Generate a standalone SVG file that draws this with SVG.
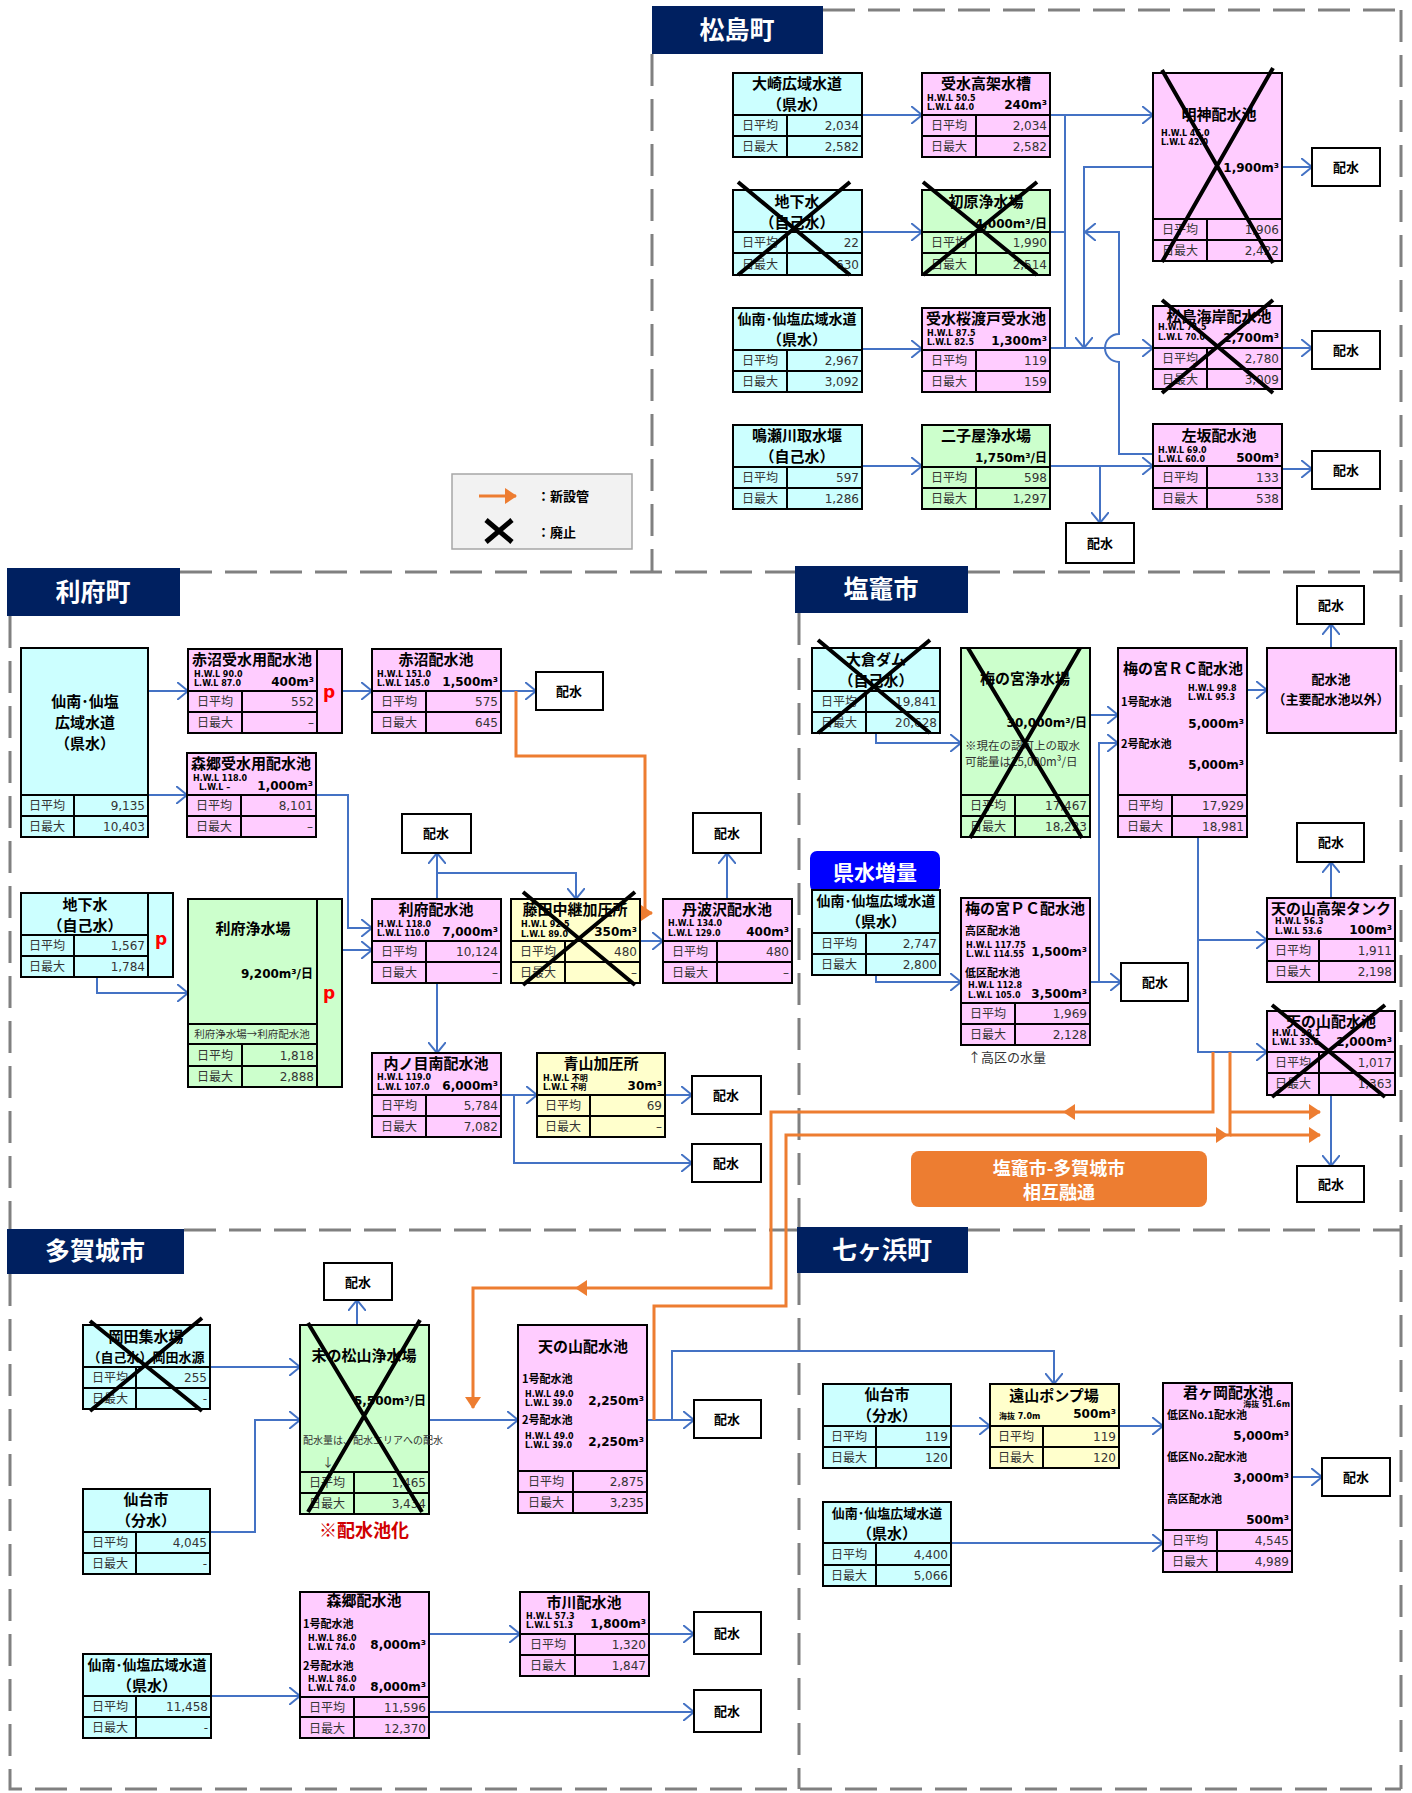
<svg xmlns="http://www.w3.org/2000/svg" width="1412" height="1793" viewBox="0 0 1412 1793">
<style>
text{font-family:"Noto Sans CJK JP","Noto Sans",sans-serif}
.b{stroke:#000;stroke-width:2}
.cy{fill:#ccffff}.pk{fill:#ffccff}.gr{fill:#ccffcc}.ye{fill:#ffffcc}.wh{fill:#fff}
.gl{stroke:#000;stroke-width:2;fill:none}
.tt{font-size:15px;font-weight:700;text-anchor:middle}
.tt.tl{font-size:14px}
.tt.ts{font-size:13px}
.st{font-size:11px;font-weight:700}
.lb{font-size:12px;fill:#333;text-anchor:middle}
.nm{font-family:"DejaVu Sans","Noto Sans CJK JP",sans-serif;font-size:12px;fill:#333;text-anchor:end}
.hw{font-family:"DejaVu Sans","Noto Sans CJK JP",sans-serif;font-size:8px;font-weight:700}
.cp{font-family:"DejaVu Sans","Noto Sans CJK JP",sans-serif;font-size:12px;font-weight:700;text-anchor:end}
.nt{font-size:11.5px;fill:#333}
.bn{font-size:25px;font-weight:700;fill:#fff;text-anchor:middle}
.dw{font-size:13px;font-weight:700;text-anchor:middle}
.pp{font-family:"DejaVu Sans",sans-serif;font-size:17px;font-weight:700;fill:#ff0000;text-anchor:middle}
.ln{stroke:#4472c4;stroke-width:2;fill:none}
.a{marker-end:url(#ah)}
.or{stroke:#ed7d31;stroke-width:3;fill:none}
.oa{marker-end:url(#oh)}
.xx{stroke:#000;stroke-width:4;fill:none}
.dash{stroke:#808080;stroke-width:3;stroke-dasharray:32 13;fill:none}
</style>
<defs>
<marker id="ah" viewBox="0 0 12 18" refX="11" refY="9" markerWidth="12" markerHeight="18" markerUnits="userSpaceOnUse" orient="auto"><path d="M0,0 L11,9 L0,18" fill="none" stroke="#4472c4" stroke-width="2"/></marker>
<marker id="oh" viewBox="0 0 12 16" refX="11" refY="8" markerWidth="12" markerHeight="16" markerUnits="userSpaceOnUse" orient="auto"><path d="M0,0 L12,8 L0,16z" fill="#ed7d31"/></marker>
</defs>
<rect width="1412" height="1793" fill="#fff"/>

<!-- area borders -->
<g id="areas">
<path class="dash" d="M823,10H1401M1401,10V1789M652,54V572M180,572H795M968,572H1401M10,616V1229M799,613V1227M184,1230H797M968,1230H1401M10,1274V1789H1401M799,1273V1789"/>
</g>

<!-- area banners -->
<g id="banners">
<rect x="652" y="6" width="171" height="48" fill="#002060"/><text class="bn" x="737" y="39">松島町</text>
<rect x="7" y="568" width="173" height="48" fill="#002060"/><text class="bn" x="93" y="601">利府町</text>
<rect x="795" y="566" width="173" height="47" fill="#002060"/><text class="bn" x="881" y="598">塩竈市</text>
<rect x="7" y="1229" width="177" height="45" fill="#002060"/><text class="bn" x="95" y="1260">多賀城市</text>
<rect x="797" y="1227" width="171" height="46" fill="#002060"/><text class="bn" x="882" y="1259">七ヶ浜町</text>
</g>

<!-- legend -->
<g id="legend">
<rect x="452" y="474" width="180" height="75" fill="#f2f2f2" stroke="#a6a6a6" stroke-width="1.5"/>
<path class="or oa" d="M479,496H516"/>
<text x="537" y="501" font-size="13" font-weight="700">：新設管</text>
<path d="M486,520L512,542M512,520L486,542" stroke="#000" stroke-width="5"/>
<text x="537" y="537" font-size="13" font-weight="700">：廃止</text>
</g>

<!-- connectors -->
<g id="connectors">
<path class="ln a" d="M862,115H922"/>
<path class="ln a" d="M862,232H922"/>
<path class="ln a" d="M862,349H922"/>
<path class="ln a" d="M862,466H922"/>
<path class="ln a" d="M1050,115H1153"/>
<path class="ln" d="M1065,115V348M1050,232H1065"/>
<path class="ln a" d="M1050,348H1153"/>
<path class="ln a" d="M1153,167H1084V348"/>
<path class="ln a" d="M1153,454H1119V362A14,14 0 0 1 1119,334V232H1085"/>
<path class="ln a" d="M1050,466H1153"/>
<path class="ln a" d="M1100,466V523"/>
<path class="ln a" d="M1282,167H1312"/>
<path class="ln a" d="M1282,348H1312"/>
<path class="ln a" d="M1282,469H1312"/>

<path class="ln a" d="M148,691H188"/>
<path class="ln a" d="M148,795H187"/>
<path class="ln a" d="M342,691H372"/>
<path class="ln a" d="M316,795H348V928H372"/>
<path class="ln a" d="M342,950H372"/>
<path class="ln a" d="M97,977V993H188"/>
<path class="ln a" d="M501,691H536"/>
<path class="ln a" d="M437,899V853"/>
<path class="ln a" d="M437,873H576V899"/>
<path class="ln a" d="M437,983V1053"/>
<path class="ln a" d="M640,941H663"/>
<path class="ln a" d="M727,899V853"/>
<path class="ln a" d="M501,1095H537"/>
<path class="ln a" d="M514,1095V1163H692"/>
<path class="ln a" d="M665,1095H692"/>

<path class="ln a" d="M876,733V743H961"/>
<path class="ln a" d="M876,975V982H961"/>
<path class="ln a" d="M1090,715H1118"/>
<path class="ln a" d="M1090,982H1121"/>
<path class="ln a" d="M1099,982V743H1118"/>
<path class="ln a" d="M1247,690H1267"/>
<path class="ln a" d="M1331,648V624"/>
<path class="ln a" d="M1331,898V862"/>
<path class="ln a" d="M1198,837V1052H1267"/>
<path class="ln a" d="M1198,940H1267"/>
<path class="ln a" d="M1331,1095V1166"/>

<path class="ln a" d="M357,1325V1300"/>
<path class="ln a" d="M210,1367H300"/>
<path class="ln a" d="M210,1532H255V1420H300"/>
<path class="ln a" d="M429,1420H518"/>
<path class="ln a" d="M647,1420H694"/>
<path class="ln a" d="M672,1420V1351H1054V1384"/>
<path class="ln a" d="M211,1696H300"/>
<path class="ln a" d="M429,1634H520"/>
<path class="ln a" d="M429,1712H694"/>
<path class="ln a" d="M649,1634H694"/>

<path class="ln a" d="M951,1426H990"/>
<path class="ln a" d="M1119,1426H1163"/>
<path class="ln a" d="M1292,1477H1322"/>
<path class="ln a" d="M951,1543H1163"/>

<path class="or oa" d="M516,691V756H645V913H652"/>
<path class="or oa" d="M1213,1052V1112H771V1288H473V1408"/>
<path class="or" d="M654,1420V1306H786V1135H1230V1052"/>
<path class="or oa" d="M1230,1112H1320"/>
<path class="or oa" d="M1230,1135H1320"/>
<polygon points="1063,1112 1075,1104 1075,1120" fill="#ed7d31"/>
<polygon points="575,1288 587,1280 587,1296" fill="#ed7d31"/>
<polygon points="1228,1135 1216,1127 1216,1143" fill="#ed7d31"/>
</g>

<!-- 松島町 -->
<g id="n-osaki">
<rect class="b cy" x="733" y="73" width="129" height="84"/>
<path class="gl" d="M733,115H862M733,136H862M787,115V157"/>
<text class="tt" x="797" y="89">大崎広域水道</text><text class="tt" x="797" y="110">（県水）</text>
<text class="lb" x="760" y="130">日平均</text><text class="nm" x="859" y="130">2,034</text>
<text class="lb" x="760" y="151">日最大</text><text class="nm" x="859" y="151">2,582</text>
</g>
<g id="n-jusui-kouka">
<rect class="b pk" x="922" y="73" width="128" height="84"/>
<path class="gl" d="M922,115H1050M922,136H1050M976,115V157"/>
<text class="tt" x="986" y="89">受水高架水槽</text>
<text class="hw" x="927" y="101">H.W.L 50.5</text><text class="hw" x="927" y="110">L.W.L 44.0</text>
<text class="cp" x="1047" y="109">240m³</text>
<text class="lb" x="949" y="130">日平均</text><text class="nm" x="1047" y="130">2,034</text>
<text class="lb" x="949" y="151">日最大</text><text class="nm" x="1047" y="151">2,582</text>
</g>
<g id="n-chikasui-m">
<rect class="b cy" x="733" y="190" width="129" height="85"/>
<path class="gl" d="M733,232H862M733,253H862M787,232V275"/>
<text class="tt" x="797" y="207">地下水</text><text class="tt" x="797" y="228">（自己水）</text>
<text class="lb" x="760" y="247">日平均</text><text class="nm" x="859" y="247">22</text>
<text class="lb" x="760" y="269">日最大</text><text class="nm" x="859" y="269">630</text>
<path class="xx" d="M738,182L850,275M850,182L738,275"/>
</g>
<g id="n-hatsuhara">
<rect class="b gr" x="922" y="190" width="128" height="85"/>
<path class="gl" d="M922,232H1050M922,253H1050M976,232V275"/>
<text class="tt" x="986" y="207">初原浄水場</text>
<text class="cp" x="1047" y="228">4,000m³/日</text>
<text class="lb" x="949" y="247">日平均</text><text class="nm" x="1047" y="247">1,990</text>
<text class="lb" x="949" y="269">日最大</text><text class="nm" x="1047" y="269">2,514</text>
<path class="xx" d="M923,182L1037,275M1037,182L923,275"/>
</g>
<g id="n-myojin">
<rect class="b pk" x="1153" y="73" width="129" height="188"/>
<path class="gl" d="M1153,219H1282M1153,240H1282M1207,219V261"/>
<text class="tt" x="1219" y="120">明神配水池</text>
<text class="hw" x="1161" y="136">H.W.L 46.0</text><text class="hw" x="1161" y="145">L.W.L 42.0</text>
<text class="cp" x="1279" y="172">1,900m³</text>
<text class="lb" x="1180" y="234">日平均</text><text class="nm" x="1279" y="234">1,906</text>
<text class="lb" x="1180" y="255">日最大</text><text class="nm" x="1279" y="255">2,422</text>
<path class="xx" d="M1162,70L1273,263M1273,68L1162,262"/>
</g>
<g id="n-sennan-m">
<rect class="b cy" x="733" y="308" width="129" height="84"/>
<path class="gl" d="M733,350H862M733,371H862M787,350V392"/>
<text class="tt tl" x="797" y="324">仙南･仙塩広域水道</text><text class="tt" x="797" y="345">（県水）</text>
<text class="lb" x="760" y="365">日平均</text><text class="nm" x="859" y="365">2,967</text>
<text class="lb" x="760" y="386">日最大</text><text class="nm" x="859" y="386">3,092</text>
</g>
<g id="n-sakurawatado">
<rect class="b pk" x="922" y="308" width="128" height="84"/>
<path class="gl" d="M922,350H1050M922,371H1050M976,350V392"/>
<text class="tt" x="986" y="324">受水桜渡戸受水池</text>
<text class="hw" x="927" y="336">H.W.L 87.5</text><text class="hw" x="927" y="345">L.W.L 82.5</text>
<text class="cp" x="1047" y="345">1,300m³</text>
<text class="lb" x="949" y="365">日平均</text><text class="nm" x="1047" y="365">119</text>
<text class="lb" x="949" y="386">日最大</text><text class="nm" x="1047" y="386">159</text>
</g>
<g id="n-naruse">
<rect class="b cy" x="733" y="425" width="129" height="84"/>
<path class="gl" d="M733,467H862M733,488H862M787,467V509"/>
<text class="tt" x="797" y="441">鳴瀬川取水堰</text><text class="tt" x="797" y="462">（自己水）</text>
<text class="lb" x="760" y="482">日平均</text><text class="nm" x="859" y="482">597</text>
<text class="lb" x="760" y="503">日最大</text><text class="nm" x="859" y="503">1,286</text>
</g>
<g id="n-futagoya">
<rect class="b gr" x="922" y="425" width="128" height="84"/>
<path class="gl" d="M922,467H1050M922,488H1050M976,467V509"/>
<text class="tt" x="986" y="441">二子屋浄水場</text>
<text class="cp" x="1047" y="462">1,750m³/日</text>
<text class="lb" x="949" y="482">日平均</text><text class="nm" x="1047" y="482">598</text>
<text class="lb" x="949" y="503">日最大</text><text class="nm" x="1047" y="503">1,297</text>
</g>
<g id="n-matsushima-kaigan">
<rect class="b pk" x="1153" y="306" width="129" height="83"/>
<path class="gl" d="M1153,348H1282M1153,369H1282M1207,348V389"/>
<text class="tt" x="1219" y="322">松島海岸配水池</text>
<text class="hw" x="1158" y="330">H.W.L 71.5</text><text class="hw" x="1158" y="340">L.W.L 70.0</text>
<text class="cp" x="1279" y="342">2,700m³</text>
<text class="lb" x="1180" y="363">日平均</text><text class="nm" x="1279" y="363">2,780</text>
<text class="lb" x="1180" y="384">日最大</text><text class="nm" x="1279" y="384">3,009</text>
<path class="xx" d="M1162,300L1273,393M1273,300L1162,393"/>
</g>
<g id="n-sasaka">
<rect class="b pk" x="1153" y="424" width="129" height="85"/>
<path class="gl" d="M1153,466H1282M1153,488H1282M1207,466V509"/>
<text class="tt" x="1219" y="441">左坂配水池</text>
<text class="hw" x="1158" y="453">H.W.L 69.0</text><text class="hw" x="1158" y="462">L.W.L 60.0</text>
<text class="cp" x="1279" y="462">500m³</text>
<text class="lb" x="1180" y="482">日平均</text><text class="nm" x="1279" y="482">133</text>
<text class="lb" x="1180" y="503">日最大</text><text class="nm" x="1279" y="503">538</text>
</g>
<g id="d-m1"><rect class="b wh" x="1312" y="148" width="68" height="38"/><text class="dw" x="1346" y="172">配水</text></g>
<g id="d-m2"><rect class="b wh" x="1312" y="331" width="68" height="38"/><text class="dw" x="1346" y="355">配水</text></g>
<g id="d-m3"><rect class="b wh" x="1312" y="451" width="68" height="38"/><text class="dw" x="1346" y="475">配水</text></g>
<g id="d-m4"><rect class="b wh" x="1066" y="523" width="68" height="40"/><text class="dw" x="1100" y="548">配水</text></g>

<!-- 利府町 -->
<g id="n-sennan-r">
<rect class="b cy" x="21" y="648" width="127" height="189"/>
<path class="gl" d="M21,795H148M21,816H148M74,795V837"/>
<text class="tt" x="85" y="707">仙南･仙塩</text><text class="tt" x="85" y="728">広域水道</text><text class="tt" x="85" y="749">（県水）</text>
<text class="lb" x="47" y="810">日平均</text><text class="nm" x="145" y="810">9,135</text>
<text class="lb" x="47" y="831">日最大</text><text class="nm" x="145" y="831">10,403</text>
</g>
<g id="n-akanuma-jusui">
<rect class="b pk" x="188" y="649" width="129" height="84"/><rect class="b pk" x="317" y="649" width="25" height="84"/>
<path class="gl" d="M188,691H317M188,712H317M242,691V733"/>
<text class="tt" x="252" y="665">赤沼受水用配水池</text>
<text class="hw" x="194" y="677">H.W.L 90.0</text><text class="hw" x="194" y="686">L.W.L 87.0</text>
<text class="cp" x="314" y="686">400m³</text>
<text class="lb" x="215" y="706">日平均</text><text class="nm" x="314" y="706">552</text>
<text class="lb" x="215" y="727">日最大</text><text class="nm" x="314" y="727">–</text>
<text class="pp" x="329" y="698">p</text>
</g>
<g id="n-morigo-jusui">
<rect class="b pk" x="187" y="753" width="129" height="84"/>
<path class="gl" d="M187,795H316M187,816H316M241,795V837"/>
<text class="tt" x="251" y="769">森郷受水用配水池</text>
<text class="hw" x="193" y="781">H.W.L 118.0</text><text class="hw" x="199" y="790">L.W.L –</text>
<text class="cp" x="313" y="790">1,000m³</text>
<text class="lb" x="214" y="810">日平均</text><text class="nm" x="313" y="810">8,101</text>
<text class="lb" x="214" y="831">日最大</text><text class="nm" x="313" y="831">–</text>
</g>
<g id="n-akanuma">
<rect class="b pk" x="372" y="649" width="129" height="84"/>
<path class="gl" d="M372,691H501M372,712H501M426,691V733"/>
<text class="tt" x="436" y="665">赤沼配水池</text>
<text class="hw" x="377" y="677">H.W.L 151.0</text><text class="hw" x="377" y="686">L.W.L 145.0</text>
<text class="cp" x="498" y="686">1,500m³</text>
<text class="lb" x="399" y="706">日平均</text><text class="nm" x="498" y="706">575</text>
<text class="lb" x="399" y="727">日最大</text><text class="nm" x="498" y="727">645</text>
</g>
<g id="n-chikasui-r">
<rect class="b cy" x="21" y="893" width="127" height="84"/><rect class="b cy" x="148" y="893" width="25" height="84"/>
<path class="gl" d="M21,935H148M21,956H148M74,935V977"/>
<text class="tt" x="85" y="910">地下水</text><text class="tt" x="85" y="931">（自己水）</text>
<text class="lb" x="47" y="950">日平均</text><text class="nm" x="145" y="950">1,567</text>
<text class="lb" x="47" y="971">日最大</text><text class="nm" x="145" y="971">1,784</text>
<text class="pp" x="161" y="945">p</text>
</g>
<g id="n-rifu-josui">
<rect class="b gr" x="188" y="899" width="129" height="188"/><rect class="b gr" x="317" y="899" width="25" height="188"/>
<path class="gl" d="M188,1024H317M188,1044H317M188,1066H317M242,1044V1087"/>
<text class="tt" x="253" y="934">利府浄水場</text>
<text class="cp" x="313" y="978">9,200m³/日</text>
<text x="252" y="1038" font-size="10.5" fill="#333" text-anchor="middle">利府浄水場→利府配水池</text>
<text class="lb" x="215" y="1060">日平均</text><text class="nm" x="314" y="1060">1,818</text>
<text class="lb" x="215" y="1081">日最大</text><text class="nm" x="314" y="1081">2,888</text>
<text class="pp" x="329" y="999">p</text>
</g>
<g id="n-rifu-haisui">
<rect class="b pk" x="372" y="899" width="129" height="84"/>
<path class="gl" d="M372,941H501M372,962H501M426,941V983"/>
<text class="tt" x="436" y="915">利府配水池</text>
<text class="hw" x="377" y="927">H.W.L 118.0</text><text class="hw" x="377" y="936">L.W.L 110.0</text>
<text class="cp" x="498" y="936">7,000m³</text>
<text class="lb" x="399" y="956">日平均</text><text class="nm" x="498" y="956">10,124</text>
<text class="lb" x="399" y="977">日最大</text><text class="nm" x="498" y="977">–</text>
</g>
<g id="n-fujita">
<rect class="b ye" x="511" y="899" width="129" height="84"/>
<path class="gl" d="M511,941H640M511,962H640M565,941V983"/>
<text class="tt" x="575" y="915">藤田中継加圧所</text>
<text class="hw" x="521" y="927">H.W.L 92.5</text><text class="hw" x="521" y="937">L.W.L 89.0</text>
<text class="cp" x="637" y="936">350m³</text>
<text class="lb" x="538" y="956">日平均</text><text class="nm" x="637" y="956">480</text>
<text class="lb" x="538" y="977">日最大</text><text class="nm" x="637" y="977">–</text>
<path class="xx" d="M523,892L635,985M635,892L523,985"/>
</g>
<g id="n-tanbazawa">
<rect class="b pk" x="663" y="899" width="129" height="84"/>
<path class="gl" d="M663,941H792M663,962H792M717,941V983"/>
<text class="tt" x="727" y="915">丹波沢配水池</text>
<text class="hw" x="668" y="926">H.W.L 134.0</text><text class="hw" x="668" y="936">L.W.L 129.0</text>
<text class="cp" x="789" y="936">400m³</text>
<text class="lb" x="690" y="956">日平均</text><text class="nm" x="789" y="956">480</text>
<text class="lb" x="690" y="977">日最大</text><text class="nm" x="789" y="977">–</text>
</g>
<g id="n-uchinome">
<rect class="b pk" x="372" y="1053" width="129" height="84"/>
<path class="gl" d="M372,1095H501M372,1116H501M426,1095V1137"/>
<text class="tt" x="436" y="1069">内ノ目南配水池</text>
<text class="hw" x="377" y="1080">H.W.L 119.0</text><text class="hw" x="377" y="1090">L.W.L 107.0</text>
<text class="cp" x="498" y="1090">6,000m³</text>
<text class="lb" x="399" y="1110">日平均</text><text class="nm" x="498" y="1110">5,784</text>
<text class="lb" x="399" y="1131">日最大</text><text class="nm" x="498" y="1131">7,082</text>
</g>
<g id="n-aoyama">
<rect class="b ye" x="537" y="1053" width="128" height="84"/>
<path class="gl" d="M537,1095H665M537,1116H665M590,1095V1137"/>
<text class="tt" x="601" y="1069">青山加圧所</text>
<text class="hw" x="543" y="1081">H.W.L 不明</text><text class="hw" x="543" y="1090">L.W.L 不明</text>
<text class="cp" x="662" y="1090">30m³</text>
<text class="lb" x="563" y="1110">日平均</text><text class="nm" x="662" y="1110">69</text>
<text class="lb" x="563" y="1131">日最大</text><text class="nm" x="662" y="1131">–</text>
</g>
<g id="d-r1"><rect class="b wh" x="536" y="672" width="67" height="38"/><text class="dw" x="569" y="696">配水</text></g>
<g id="d-r2"><rect class="b wh" x="402" y="814" width="69" height="39"/><text class="dw" x="436" y="838">配水</text></g>
<g id="d-r3"><rect class="b wh" x="693" y="813" width="68" height="40"/><text class="dw" x="727" y="838">配水</text></g>
<g id="d-r4"><rect class="b wh" x="692" y="1076" width="69" height="38"/><text class="dw" x="726" y="1100">配水</text></g>
<g id="d-r5"><rect class="b wh" x="692" y="1144" width="69" height="38"/><text class="dw" x="726" y="1168">配水</text></g>

<!-- 塩竈市 -->
<g id="n-okura">
<rect class="b cy" x="812" y="648" width="128" height="85"/>
<path class="gl" d="M812,691H940M812,712H940M866,691V733"/>
<text class="tt" x="876" y="665">大倉ダム</text><text class="tt" x="876" y="686">（自己水）</text>
<text class="lb" x="839" y="706">日平均</text><text class="nm" x="937" y="706">19,841</text>
<text class="lb" x="839" y="727">日最大</text><text class="nm" x="937" y="727">20,628</text>
<path class="xx" d="M818,640L930,733M930,640L818,733"/>
</g>
<g id="n-umenomiya-josui">
<rect class="b gr" x="961" y="648" width="129" height="189"/>
<path class="gl" d="M961,795H1090M961,816H1090M1015,795V837"/>
<text class="tt" x="1025" y="684">梅の宮浄水場</text>
<text class="cp" x="1087" y="727">30,000m³/日</text>
<text class="nt" x="965" y="750">※現在の認可上の取水</text>
<text class="nt" x="965" y="766">可能量は25,000m³/日</text>
<text class="lb" x="988" y="810">日平均</text><text class="nm" x="1087" y="810">17,467</text>
<text class="lb" x="988" y="831">日最大</text><text class="nm" x="1087" y="831">18,223</text>
<path class="xx" d="M968,648L1082,838M1080,648L970,838"/>
</g>
<g id="badge-kensui">
<rect x="810" y="851" width="130" height="41" rx="7" fill="#0000ff"/>
<text x="875" y="880" font-size="21" font-weight="700" fill="#fff" text-anchor="middle">県水増量</text>
</g>
<g id="n-sennan-s">
<rect class="b cy" x="812" y="890" width="128" height="85"/>
<path class="gl" d="M812,933H940M812,954H940M866,933V975"/>
<text class="tt tl" x="876" y="906">仙南･仙塩広域水道</text><text class="tt" x="876" y="927">（県水）</text>
<text class="lb" x="839" y="948">日平均</text><text class="nm" x="937" y="948">2,747</text>
<text class="lb" x="839" y="969">日最大</text><text class="nm" x="937" y="969">2,800</text>
</g>
<g id="n-umenomiya-pc">
<rect class="b pk" x="961" y="898" width="129" height="147"/>
<path class="gl" d="M961,1003H1090M961,1024H1090M1015,1003V1045"/>
<text class="tt" x="1025" y="914">梅の宮ＰＣ配水池</text>
<text class="st" x="965" y="935">高区配水池</text>
<text class="hw" x="966" y="948">H.W.L 117.75</text><text class="hw" x="966" y="957">L.W.L 114.55</text>
<text class="cp" x="1087" y="956">1,500m³</text>
<text class="st" x="965" y="977">低区配水池</text>
<text class="hw" x="968" y="988">H.W.L 112.8</text><text class="hw" x="968" y="998">L.W.L 105.0</text>
<text class="cp" x="1087" y="998">3,500m³</text>
<text class="lb" x="988" y="1018">日平均</text><text class="nm" x="1087" y="1018">1,969</text>
<text class="lb" x="988" y="1039">日最大</text><text class="nm" x="1087" y="1039">2,128</text>
</g>
<text x="968" y="1062" font-size="13" fill="#333">↑高区の水量</text>
<g id="n-umenomiya-rc">
<rect class="b pk" x="1118" y="648" width="129" height="189"/>
<path class="gl" d="M1118,795H1247M1118,816H1247M1172,795V837"/>
<text class="tt" x="1183" y="674">梅の宮ＲＣ配水池</text>
<text class="st" x="1121" y="706">1号配水池</text>
<text class="hw" x="1188" y="691">H.W.L 99.8</text><text class="hw" x="1188" y="700">L.W.L 95.3</text>
<text class="cp" x="1244" y="728">5,000m³</text>
<text class="st" x="1121" y="748">2号配水池</text>
<text class="cp" x="1244" y="769">5,000m³</text>
<text class="lb" x="1145" y="810">日平均</text><text class="nm" x="1244" y="810">17,929</text>
<text class="lb" x="1145" y="831">日最大</text><text class="nm" x="1244" y="831">18,981</text>
</g>
<g id="n-haisuichi-other">
<rect class="b pk" x="1267" y="648" width="129" height="85"/>
<text class="dw" x="1331" y="684">配水池</text>
<text class="dw" x="1331" y="704">（主要配水池以外）</text>
</g>
<g id="n-amanoyama-tank">
<rect class="b pk" x="1267" y="898" width="128" height="84"/>
<path class="gl" d="M1267,939H1395M1267,961H1395M1319,939V982"/>
<text class="tt" x="1331" y="914">天の山高架タンク</text>
<text class="hw" x="1275" y="924">H.W.L 56.3</text><text class="hw" x="1275" y="934">L.W.L 53.6</text>
<text class="cp" x="1392" y="934">100m³</text>
<text class="lb" x="1293" y="955">日平均</text><text class="nm" x="1392" y="955">1,911</text>
<text class="lb" x="1293" y="976">日最大</text><text class="nm" x="1392" y="976">2,198</text>
</g>
<g id="n-amanoyama-s">
<rect class="b pk" x="1267" y="1011" width="128" height="84"/>
<path class="gl" d="M1267,1052H1395M1267,1073H1395M1319,1052V1095"/>
<text class="tt" x="1331" y="1027">天の山配水池</text>
<text class="hw" x="1272" y="1036">H.W.L 38.1</text><text class="hw" x="1272" y="1045">L.W.L 33.6</text>
<text class="cp" x="1392" y="1046">2,000m³</text>
<text class="lb" x="1293" y="1067">日平均</text><text class="nm" x="1392" y="1067">1,017</text>
<text class="lb" x="1293" y="1088">日最大</text><text class="nm" x="1392" y="1088">1,363</text>
<path class="xx" d="M1272,1005L1385,1097M1385,1005L1272,1097"/>
</g>
<g id="d-s1"><rect class="b wh" x="1297" y="586" width="67" height="38"/><text class="dw" x="1331" y="610">配水</text></g>
<g id="d-s2"><rect class="b wh" x="1297" y="823" width="67" height="39"/><text class="dw" x="1331" y="847">配水</text></g>
<g id="d-s3"><rect class="b wh" x="1121" y="963" width="67" height="38"/><text class="dw" x="1155" y="987">配水</text></g>
<g id="d-s4"><rect class="b wh" x="1297" y="1166" width="67" height="36"/><text class="dw" x="1331" y="1189">配水</text></g>
<g id="label-yuzu">
<rect x="911" y="1151" width="296" height="56" rx="8" fill="#ed7d31"/>
<text x="1059" y="1175" font-size="18" font-weight="700" fill="#fff" text-anchor="middle">塩竈市-多賀城市</text>
<text x="1059" y="1199" font-size="18" font-weight="700" fill="#fff" text-anchor="middle">相互融通</text>
</g>

<!-- 多賀城市 -->
<g id="n-okada">
<rect class="b cy" x="83" y="1325" width="127" height="84"/>
<path class="gl" d="M83,1367H210M83,1388H210M136,1367V1409"/>
<text class="tt" x="146" y="1342">岡田集水場</text><text class="tt ts" x="146" y="1362">（自己水）岡田水源</text>
<text class="lb" x="110" y="1382">日平均</text><text class="nm" x="207" y="1382">255</text>
<text class="lb" x="110" y="1403">日最大</text><text class="nm" x="207" y="1403">-</text>
<path class="xx" d="M90,1321L202,1411M202,1318L90,1411"/>
</g>
<g id="n-sendai-t">
<rect class="b cy" x="83" y="1489" width="127" height="85"/>
<path class="gl" d="M83,1532H210M83,1553H210M136,1532V1574"/>
<text class="tt" x="146" y="1505">仙台市</text><text class="tt" x="146" y="1526">（分水）</text>
<text class="lb" x="110" y="1547">日平均</text><text class="nm" x="207" y="1547">4,045</text>
<text class="lb" x="110" y="1568">日最大</text><text class="nm" x="207" y="1568">-</text>
</g>
<g id="n-suenomatsuyama">
<rect class="b gr" x="300" y="1325" width="129" height="189"/>
<path class="gl" d="M300,1472H429M300,1493H429M354,1472V1514"/>
<text class="tt" x="364" y="1361">末の松山浄水場</text>
<text class="cp" x="426" y="1405">5,500m³/日</text>
<text x="303" y="1444" font-size="10" fill="#333">配水量は、配水エリアへの配水</text>
<text x="328" y="1467" font-size="12" fill="#333" text-anchor="middle">↓</text>
<text class="lb" x="327" y="1487">日平均</text><text class="nm" x="426" y="1487">1,465</text>
<text class="lb" x="327" y="1508">日最大</text><text class="nm" x="426" y="1508">3,434</text>
<path class="xx" d="M308,1323L422,1512M420,1320L308,1512"/>
</g>
<text x="364" y="1537" font-size="18" font-weight="700" fill="#d00000" text-anchor="middle">※配水池化</text>
<g id="n-amanoyama-t">
<rect class="b pk" x="518" y="1325" width="129" height="188"/>
<path class="gl" d="M518,1471H647M518,1492H647M573,1471V1513"/>
<text class="tt" x="583" y="1352">天の山配水池</text>
<text class="st" x="522" y="1383">1号配水池</text>
<text class="hw" x="525" y="1397">H.W.L 49.0</text><text class="hw" x="525" y="1406">L.W.L 39.0</text>
<text class="cp" x="644" y="1405">2,250m³</text>
<text class="st" x="522" y="1424">2号配水池</text>
<text class="hw" x="525" y="1439">H.W.L 49.0</text><text class="hw" x="525" y="1448">L.W.L 39.0</text>
<text class="cp" x="644" y="1446">2,250m³</text>
<text class="lb" x="546" y="1486">日平均</text><text class="nm" x="644" y="1486">2,875</text>
<text class="lb" x="546" y="1507">日最大</text><text class="nm" x="644" y="1507">3,235</text>
</g>
<g id="n-sennan-t">
<rect class="b cy" x="83" y="1654" width="128" height="84"/>
<path class="gl" d="M83,1696H211M83,1717H211M136,1696V1738"/>
<text class="tt tl" x="147" y="1670">仙南･仙塩広域水道</text><text class="tt" x="147" y="1691">（県水）</text>
<text class="lb" x="110" y="1711">日平均</text><text class="nm" x="208" y="1711">11,458</text>
<text class="lb" x="110" y="1732">日最大</text><text class="nm" x="208" y="1732">-</text>
</g>
<g id="n-morigo">
<rect class="b pk" x="300" y="1592" width="129" height="146"/>
<path class="gl" d="M300,1697H429M300,1717H429M354,1697V1738"/>
<text class="tt" x="364" y="1606">森郷配水池</text>
<text class="st" x="303" y="1628">1号配水池</text>
<text class="hw" x="308" y="1641">H.W.L 86.0</text><text class="hw" x="308" y="1650">L.W.L 74.0</text>
<text class="cp" x="426" y="1649">8,000m³</text>
<text class="st" x="303" y="1670">2号配水池</text>
<text class="hw" x="308" y="1682">H.W.L 86.0</text><text class="hw" x="308" y="1691">L.W.L 74.0</text>
<text class="cp" x="426" y="1691">8,000m³</text>
<text class="lb" x="327" y="1712">日平均</text><text class="nm" x="426" y="1712">11,596</text>
<text class="lb" x="327" y="1733">日最大</text><text class="nm" x="426" y="1733">12,370</text>
</g>
<g id="n-ichikawa">
<rect class="b pk" x="520" y="1592" width="129" height="84"/>
<path class="gl" d="M520,1634H649M520,1655H649M575,1634V1676"/>
<text class="tt" x="584" y="1608">市川配水池</text>
<text class="hw" x="526" y="1619">H.W.L 57.3</text><text class="hw" x="526" y="1628">L.W.L 51.3</text>
<text class="cp" x="646" y="1628">1,800m³</text>
<text class="lb" x="548" y="1649">日平均</text><text class="nm" x="646" y="1649">1,320</text>
<text class="lb" x="548" y="1670">日最大</text><text class="nm" x="646" y="1670">1,847</text>
</g>
<g id="d-t1"><rect class="b wh" x="324" y="1263" width="68" height="37"/><text class="dw" x="358" y="1287">配水</text></g>
<g id="d-t2"><rect class="b wh" x="694" y="1400" width="67" height="38"/><text class="dw" x="727" y="1424">配水</text></g>
<g id="d-t3"><rect class="b wh" x="694" y="1612" width="67" height="42"/><text class="dw" x="727" y="1638">配水</text></g>
<g id="d-t4"><rect class="b wh" x="694" y="1690" width="67" height="42"/><text class="dw" x="727" y="1716">配水</text></g>

<!-- 七ヶ浜町 -->
<g id="n-sendai-h">
<rect class="b cy" x="823" y="1384" width="128" height="84"/>
<path class="gl" d="M823,1426H951M823,1447H951M876,1426V1468"/>
<text class="tt" x="887" y="1400">仙台市</text><text class="tt" x="887" y="1421">（分水）</text>
<text class="lb" x="849" y="1441">日平均</text><text class="nm" x="948" y="1441">119</text>
<text class="lb" x="849" y="1462">日最大</text><text class="nm" x="948" y="1462">120</text>
</g>
<g id="n-toyama">
<rect class="b ye" x="990" y="1384" width="129" height="84"/>
<path class="gl" d="M990,1426H1119M990,1447H1119M1043,1426V1468"/>
<text class="tt" x="1054" y="1401">遠山ポンプ場</text>
<text class="hw" x="999" y="1419">海抜 7.0m</text>
<text class="cp" x="1116" y="1418">500m³</text>
<text class="lb" x="1016" y="1441">日平均</text><text class="nm" x="1116" y="1441">119</text>
<text class="lb" x="1016" y="1462">日最大</text><text class="nm" x="1116" y="1462">120</text>
</g>
<g id="n-kimigaoka">
<rect class="b pk" x="1163" y="1383" width="129" height="189"/>
<path class="gl" d="M1163,1530H1292M1163,1551H1292M1217,1530V1572"/>
<text class="tt" x="1228" y="1398">君ヶ岡配水池</text>
<text class="hw" x="1290" y="1407" text-anchor="end">海抜 51.6m</text>
<text class="st" x="1167" y="1419">低区No.1配水池</text>
<text class="cp" x="1289" y="1440">5,000m³</text>
<text class="st" x="1167" y="1461">低区No.2配水池</text>
<text class="cp" x="1289" y="1482">3,000m³</text>
<text class="st" x="1167" y="1503">高区配水池</text>
<text class="cp" x="1289" y="1524">500m³</text>
<text class="lb" x="1190" y="1545">日平均</text><text class="nm" x="1289" y="1545">4,545</text>
<text class="lb" x="1190" y="1566">日最大</text><text class="nm" x="1289" y="1566">4,989</text>
</g>
<g id="n-sennan-h">
<rect class="b cy" x="823" y="1502" width="128" height="84"/>
<path class="gl" d="M823,1543H951M823,1565H951M876,1543V1586"/>
<text class="tt ts" x="887" y="1518">仙南･仙塩広域水道</text><text class="tt" x="887" y="1539">（県水）</text>
<text class="lb" x="849" y="1559">日平均</text><text class="nm" x="948" y="1559">4,400</text>
<text class="lb" x="849" y="1580">日最大</text><text class="nm" x="948" y="1580">5,066</text>
</g>
<g id="d-h1"><rect class="b wh" x="1322" y="1458" width="68" height="38"/><text class="dw" x="1356" y="1482">配水</text></g>
</svg>
